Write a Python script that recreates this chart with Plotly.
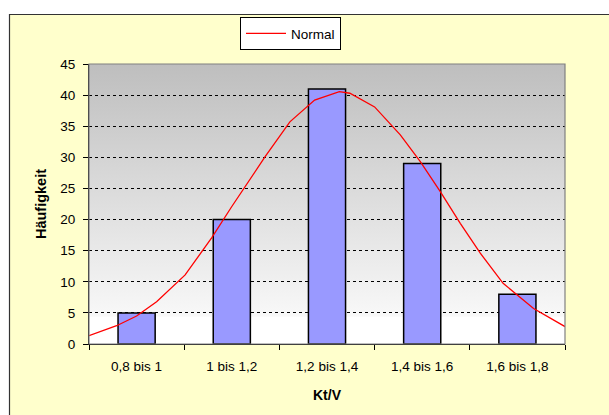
import plotly.graph_objects as go
import urllib.parse

categories = ["0,8 bis 1", "1 bis 1,2", "1,2 bis 1,4", "1,4 bis 1,6", "1,6 bis 1,8"]
counts = [5, 20, 41, 29, 8]

# Normal curve (position in category units 0..5, value)
curve_x = [0.0, 0.29, 0.50, 0.71, 1.01, 1.29, 1.50, 1.69, 1.85, 2.11, 2.37, 2.63, 2.74,
           3.00, 3.27, 3.48, 3.69, 3.90, 4.11, 4.35, 4.67, 5.00]
curve_y = [1.33, 2.94, 4.5, 6.8, 11.1, 17.1, 22.1, 26.5, 30.1, 35.7, 39.2, 40.55, 40.3,
           38.1, 33.6, 29.3, 24.5, 19.4, 14.6, 9.75, 5.7, 2.8]

y_ticks = [0, 5, 10, 15, 20, 25, 30, 35, 40, 45]

FONT = "Liberation Sans, Arial, sans-serif"
W, H = 609, 415
L, R, T, B = 89, 44, 64, 71
pw, ph = W - L - R, H - T - B

svg = ('<svg xmlns="http://www.w3.org/2000/svg" width="100" height="100" viewBox="0 0 100 100" '
       'preserveAspectRatio="none"><defs><linearGradient id="g" x1="0" y1="0" x2="0" y2="1">'
       '<stop offset="0" stop-color="#BEBEBE"/><stop offset="0.90" stop-color="#F8F8F8"/>'
       '<stop offset="0.905" stop-color="#FFFFFF"/><stop offset="1" stop-color="#FFFFFF"/>'
       '</linearGradient></defs><rect x="0" y="0" width="100" height="100" fill="url(#g)"/></svg>')
src = "data:image/svg+xml;charset=utf-8," + urllib.parse.quote(svg)

fig = go.Figure()
fig.add_trace(go.Bar(
    x=categories, y=counts, marker=dict(color="#9999FF", line=dict(color="#000000", width=1.5)),
    showlegend=False, width=0.39,
))
fig.add_trace(go.Scatter(
    x=curve_x, y=curve_y, xaxis="x2", mode="lines", name="Normal",
    line=dict(color="#FF0000", width=1.3), cliponaxis=True,
))

def px_x(px):
    return (px - L) / pw

def px_y(py):
    return (H - B - py) / ph

shapes = [
    dict(type="rect", xref="paper", yref="paper", x0=px_x(-5), x1=px_x(W + 5), y0=px_y(14), y1=px_y(-5),
         fillcolor="white", line=dict(width=0), layer="below"),
    dict(type="rect", xref="paper", yref="paper", x0=px_x(-5), x1=px_x(9), y0=px_y(H + 5), y1=px_y(-5),
         fillcolor="white", line=dict(width=0), layer="below"),
    dict(type="rect", xref="paper", yref="paper", x0=px_x(9.5), x1=px_x(W + 10), y0=px_y(H + 10), y1=px_y(14.5),
         fillcolor="rgba(0,0,0,0)", line=dict(color="#333333", width=1.2), layer="below"),
    dict(type="rect", xref="paper", yref="paper", x0=0, x1=1, y0=0, y1=1,
         fillcolor="rgba(0,0,0,0)", line=dict(color="#808080", width=1.2), layer="above"),
]

fig.update_layout(
    width=W, height=H,
    margin=dict(l=L, r=R, t=T, b=B, pad=0),
    paper_bgcolor="#FFFFCC", plot_bgcolor="rgba(0,0,0,0)",
    font=dict(family=FONT, size=13.5, color="#000000"),
    bargap=0.61,
    xaxis=dict(
        type="category", tickson="boundaries", ticks="outside", ticklen=5, tickcolor="#000",
        showline=True, linecolor="#000", linewidth=1, showgrid=False, range=[-0.5, 4.5],
        title=dict(text="<b>Kt/V</b>", font=dict(size=14), standoff=16),
        tickfont=dict(size=13.5), ticklabelstandoff=10,
    ),
    xaxis2=dict(overlaying="x", range=[0, 5], visible=False, showgrid=False),
    yaxis=dict(
        range=[0, 45], tickvals=y_ticks, ticks="outside", ticklen=5, tickcolor="#000",
        showline=True, linecolor="#000", linewidth=1,
        showgrid=True, gridcolor="#000", gridwidth=1, griddash="dot",
        zeroline=False, tickfont=dict(size=13.5), ticklabelstandoff=5,
        title=dict(text="<b>Häufigkeit</b>", font=dict(size=14.5), standoff=10),
    ),
    legend=dict(
        x=px_x(240), y=px_y(17), xanchor="left", yanchor="top",
        bgcolor="white", bordercolor="#000", borderwidth=1,
        font=dict(size=13.5), itemwidth=40, tracegroupgap=0,
    ),
    showlegend=True,
    shapes=shapes,
    images=[dict(source=src, xref="paper", yref="paper", x=0, y=1, sizex=1, sizey=1,
                 xanchor="left", yanchor="top", sizing="stretch", layer="below")],
)

fig.write_html("out.html", config={"displayModeBar": False},
               post_script="document.body.style.margin='0';document.body.style.overflow='hidden';")
